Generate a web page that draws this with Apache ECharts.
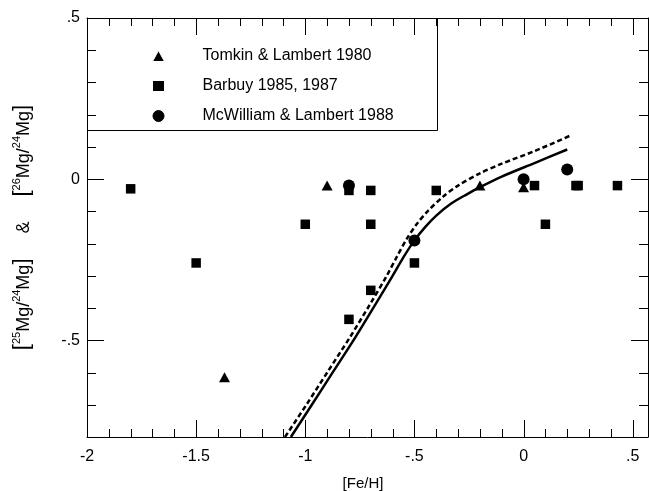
<!DOCTYPE html>
<html>
<head>
<meta charset="utf-8">
<script src="https://cdn.jsdelivr.net/npm/echarts@6/dist/echarts.min.js"></script>
<style>
  html, body { margin: 0; padding: 0; background: #fff; }
  #chart { width: 649px; height: 491px; }
</style>
</head>
<body>
<div id="chart"></div>
<script>
// Axis ticks and labels
const xTickValues = [-2, -1.5, -1, -0.5, 0, 0.5];
const xTickLabels = ['-2', '-1.5', '-1', '-.5', '0', '.5'];
const xMinorTicks = [-1.9, -1.8, -1.7, -1.6, -1.4, -1.3, -1.2, -1.1,
                     -0.9, -0.8, -0.7, -0.6, -0.4, -0.3, -0.2, -0.1,
                     0.1, 0.2, 0.3, 0.4];
const yTickValues = [-0.5, 0, 0.5];
const yTickLabels = ['-.5', '0', '.5'];
const yMinorTicks = [-0.7, -0.6, -0.4, -0.3, -0.2, -0.1, 0.1, 0.2, 0.3, 0.4];
const xTitle = '[Fe/H]';

// Observations: [ [Fe/H], log isotope ratio ]
const seriesNames = ['Tomkin & Lambert 1980', 'Barbuy 1985, 1987', 'McWilliam & Lambert 1988'];
const tomkinLambert = [[-1.37, -0.615], [-0.9, -0.02], [-0.2, -0.02], [0.0, -0.025]];
const barbuy = [[-1.8, -0.03], [-1.5, -0.26], [-1.0, -0.14], [-0.8, -0.035], [-0.8, -0.435],
                [-0.7, -0.035], [-0.7, -0.14], [-0.7, -0.345], [-0.5, -0.26], [-0.4, -0.035],
                [0.05, -0.02], [0.1, -0.14], [0.24, -0.02], [0.25, -0.02], [0.43, -0.02]];
const mcWilliamLambert = [[-0.8, -0.02], [-0.5, -0.19], [0.0, 0.0], [0.2, 0.03]];

// Model curves
const model25 = [[-1.066, -0.80], [-0.97, -0.70], [-0.87, -0.595], [-0.77, -0.49],
                 [-0.68, -0.39], [-0.60, -0.30], [-0.55, -0.242], [-0.50, -0.19],
                 [-0.45, -0.148], [-0.40, -0.113], [-0.33, -0.075], [-0.26, -0.047],
                 [-0.20, -0.025], [-0.10, 0.008], [0.05, 0.05], [0.20, 0.092]];
const model26 = [[-1.093, -0.80], [-0.995, -0.70], [-0.895, -0.595], [-0.795, -0.49],
                 [-0.705, -0.39], [-0.627, -0.30], [-0.58, -0.24], [-0.535, -0.185],
                 [-0.49, -0.14], [-0.44, -0.10], [-0.37, -0.055], [-0.30, -0.02],
                 [-0.20, 0.018], [-0.10, 0.048], [0.05, 0.087], [0.21, 0.134]];

const X_MIN = -2, X_MAX = 0.57, Y_MIN = -0.8, Y_MAX = 0.5;
const FONT = 'Liberation Sans, Arial, Helvetica, sans-serif';
const INK = '#000';
const MAJOR_LEN = 17, MINOR_X_LEN = 8, MINOR_Y_LEN = 9;

function labelFor(values, labels) {
  return v => {
    const i = values.findIndex(t => Math.abs(t - v) < 1e-9);
    return i >= 0 ? labels[i] : '';
  };
}

// Inward frame ticks on all four sides, placed through the axes' own scales
function tickLine(x1, y1, x2, y2) {
  return { type: 'line', shape: { x1, y1, x2, y2 }, style: { stroke: INK, lineWidth: 1 } };
}
function xTickSeries(values, len) {
  return {
    type: 'custom', silent: true, clip: false, z: 1,
    data: values.map(v => [v, Y_MIN]),
    encode: { x: 0, y: 1 },
    renderItem: (params, api) => {
      const v = api.value(0);
      const b = api.coord([v, Y_MIN]);
      const t = api.coord([v, Y_MAX]);
      const x = Math.round(b[0]) + 0.5;
      return { type: 'group', children: [
        tickLine(x, b[1], x, b[1] - len),
        tickLine(x, t[1], x, t[1] + len)
      ] };
    }
  };
}
function yTickSeries(values, len) {
  return {
    type: 'custom', silent: true, clip: false, z: 1,
    data: values.map(v => [X_MIN, v]),
    encode: { x: 0, y: 1 },
    renderItem: (params, api) => {
      const v = api.value(1);
      const l = api.coord([X_MIN, v]);
      const r = api.coord([X_MAX, v]);
      const y = Math.round(l[1]) + 0.5;
      return { type: 'group', children: [
        tickLine(l[0], y, l[0] + len, y),
        tickLine(r[0], y, r[0] - len, y)
      ] };
    }
  };
}

function frameAxis(dim, pos) {
  return {
    type: 'value', position: pos,
    min: dim === 'x' ? X_MIN : Y_MIN, max: dim === 'x' ? X_MAX : Y_MAX,
    axisLine: { show: true, onZero: false, lineStyle: { color: INK } },
    axisTick: { show: false },
    axisLabel: { show: false },
    splitLine: { show: false }
  };
}

const xMain = frameAxis('x', 'bottom');
xMain.axisLabel = { show: true, customValues: xTickValues, formatter: labelFor(xTickValues, xTickLabels),
                    margin: 12, fontSize: 16, color: INK, fontFamily: FONT };

const yMain = frameAxis('y', 'left');
yMain.axisLabel = { show: true, customValues: yTickValues, formatter: labelFor(yTickValues, yTickLabels),
                    margin: 7, fontSize: 16, color: INK, fontFamily: FONT };
yMain.name = '{b|[}{s|25}{m|Mg/}{s|24}{m|Mg}{b|]}{m|     &     }{b|[}{s|26}{m|Mg/}{s|24}{m|Mg}{b|]}';
yMain.nameLocation = 'middle';
yMain.nameRotate = 90;
yMain.nameGap = 54;
yMain.nameTextStyle = {
  color: INK, fontFamily: FONT,
  rich: {
    m: { fontSize: 18, fontFamily: FONT, color: INK, verticalAlign: 'bottom' },
    s: { fontSize: 11, fontFamily: FONT, color: INK, verticalAlign: 'top' },
    b: { fontSize: 22, fontFamily: FONT, color: INK, verticalAlign: 'bottom' }
  }
};

const option = {
  backgroundColor: '#fff',
  animation: false,
  grid: { left: 87, right: 1, top: 18, bottom: 54 },
  xAxis: [xMain, frameAxis('x', 'top')],
  yAxis: [yMain, frameAxis('y', 'right')],
  legend: {
    orient: 'vertical', left: 147, top: 43,
    itemWidth: 12, itemHeight: 11, itemGap: 14,
    selectedMode: false,
    textStyle: { fontSize: 16, lineHeight: 16, color: INK, fontFamily: FONT, padding: [0, 0, 0, 33] },
    data: [
      { name: seriesNames[0], itemStyle: { borderColor: '#fff', borderWidth: 1 } },
      { name: seriesNames[1], itemStyle: { borderColor: '#fff', borderWidth: 1 } },
      { name: seriesNames[2], itemStyle: { borderColor: INK, borderWidth: 1 } }
    ]
  },
  graphic: [
    {
      // frame around the key
      type: 'rect', z: 100, silent: true,
      shape: { x: 87.5, y: 18.5, width: 350, height: 112 },
      style: { fill: 'none', stroke: INK, lineWidth: 1 }
    },
    {
      // x-axis title
      type: 'text', z: 100, silent: true,
      style: { text: xTitle, x: 363, y: 484, align: 'center', verticalAlign: 'middle',
               fill: INK, font: '15px ' + FONT }
    }
  ],
  series: [
    xTickSeries(xTickValues, MAJOR_LEN),
    xTickSeries(xMinorTicks, MINOR_X_LEN),
    yTickSeries(yTickValues, MAJOR_LEN),
    yTickSeries(yMinorTicks, MINOR_Y_LEN),
    {
      name: 'model 25', type: 'line', data: model25,
      showSymbol: false, smooth: 0.3, clip: true, z: 2,
      lineStyle: { color: INK, width: 2.5 }
    },
    {
      name: 'model 26', type: 'line', data: model26,
      showSymbol: false, smooth: 0.3, clip: true, z: 2,
      lineStyle: { color: INK, width: 2.5, type: [5, 3] }
    },
    {
      name: seriesNames[0], type: 'scatter', data: tomkinLambert,
      symbol: 'triangle', symbolSize: [11, 10], z: 3,
      itemStyle: { color: INK, opacity: 1 }
    },
    {
      name: seriesNames[1], type: 'scatter', data: barbuy,
      symbol: 'rect', symbolSize: 9.5, z: 3,
      itemStyle: { color: INK, opacity: 1 }
    },
    {
      name: seriesNames[2], type: 'scatter', data: mcWilliamLambert,
      symbol: 'circle', symbolSize: 12, z: 4,
      itemStyle: { color: INK, opacity: 1 }
    }
  ]
};

const chart = echarts.init(document.getElementById('chart'), null, { renderer: 'canvas' });
chart.setOption(option);
</script>
</body>
</html>
